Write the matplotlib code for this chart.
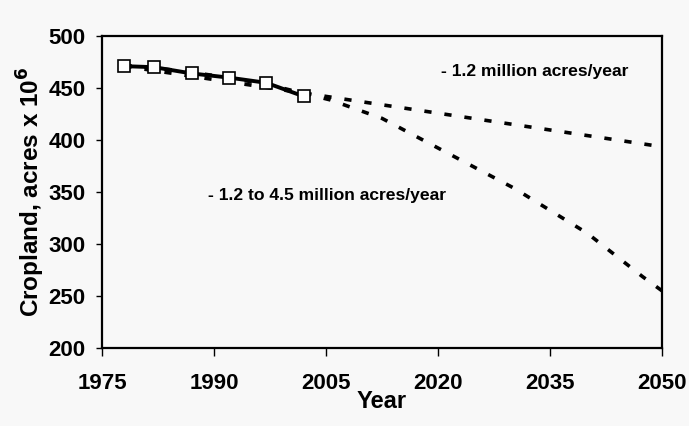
import matplotlib.pyplot as plt

# observed cropland (million acres)
years = [1978, 1982, 1987, 1992, 1997, 2002]
cropland = [471, 470, 464, 460, 455, 442]

# linear projection, -1.2 million acres/year
lin_years = [1978, 2050]
lin_vals = [471, 393.5]

# accelerating projection, -1.2 to 4.5 million acres/year
acc_years = [1978, 1985, 1992, 1998, 2005.6, 2012.5, 2019.5, 2030.2, 2040, 2047.4, 2050]
acc_vals = [472, 467, 460, 452, 438.5, 420.8, 394.2, 353.6, 310.3, 268.6, 255]

bg = '#f8f8f8'
plt.rcParams['font.family'] = ['Liberation Sans', 'DejaVu Sans']
plt.rcParams['font.weight'] = 'bold'

fig = plt.figure(figsize=(6.89, 4.26), dpi=100, facecolor=bg)
ax = fig.add_axes([102 / 689, 1 - 348 / 426, 560 / 689, 312 / 426])
ax.set_facecolor(bg)

ax.plot(lin_years, lin_vals, color='black', lw=2.6, dashes=(2, 3.6))
ax.plot(acc_years, acc_vals, color='black', lw=2.6, dashes=(2, 3.6))
ax.plot(years, cropland, color='black', lw=2.8, marker='s', markersize=8,
        markerfacecolor='white', markeredgecolor='black', markeredgewidth=1.2)

ax.set_xlim(1975, 2050)
ax.set_ylim(200, 500)
ax.set_xticks([1975, 1990, 2005, 2020, 2035, 2050])
ax.set_yticks([200, 250, 300, 350, 400, 450, 500])
ax.tick_params(axis='both', labelsize=16, direction='out', width=1.0)
ax.tick_params(axis='x', length=6, pad=12)
ax.tick_params(axis='y', length=4, pad=8)
for lbl in ax.get_xticklabels() + ax.get_yticklabels():
    lbl.set_fontweight('bold')
for s in ax.spines.values():
    s.set_linewidth(1.6)

ax.set_xlabel('Year', fontsize=17, fontweight='bold', labelpad=-3)
ax.set_ylabel('Cropland, acres x 10$^{\\mathbf{6}}$', fontsize=17.5, fontweight='bold', labelpad=1)

ax.text(2020.4, 465.5, '- 1.2 million acres/year', fontsize=12.6, fontweight='bold', ha='left', va='center')
ax.text(1989.2, 347, '- 1.2 to 4.5 million acres/year', fontsize=12.6, fontweight='bold', ha='left', va='center')

fig.savefig('out.png', dpi=100, facecolor=bg)
